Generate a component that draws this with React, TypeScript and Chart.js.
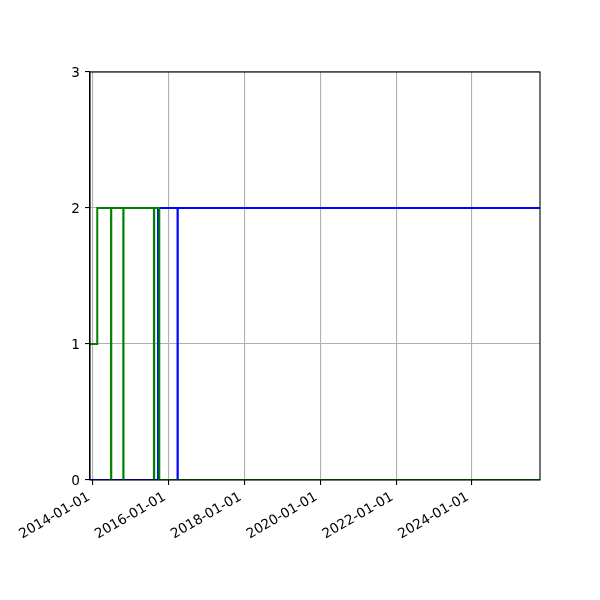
import React, { useEffect, useRef } from 'react';
import { Chart, registerables } from 'chart.js';

Chart.register(...registerables);

// dates (UTC days)
const xStart = '2013-12-03';
const xEnd = '2025-10-19';
const tickDates = ['2014-01-01', '2016-01-01', '2018-01-01', '2020-01-01', '2022-01-01', '2024-01-01'];
const yTicks = [0, 1, 2, 3];

const greenDates = [
  '2013-12-03', '2014-02-11', '2014-06-24', '2014-06-26', '2014-10-20',
  '2014-10-22', '2015-08-11', '2015-08-14', '2015-10-02', '2025-10-19',
];
const greenValues = [1, 2, 0, 2, 0, 2, 0, 2, 0, 0];

const blueDates = ['2013-12-03', '2015-09-20', '2016-03-26', '2016-03-28', '2025-10-19'];
const blueValues = [0, 2, 0, 2, 2];

const toMs = (s: string) => Date.parse(s + 'T00:00:00Z');
const fmt = (v: number) => new Date(v).toISOString().slice(0, 10);

const FONT = { family: '"DejaVu Sans", sans-serif', size: 13.6 };

// matplotlib style box around the plot area
const framePlugin = {
  id: 'frame',
  afterDraw(chart: any) {
    const { ctx, chartArea: a } = chart;
    ctx.save();
    ctx.strokeStyle = '#000';
    ctx.lineWidth = 1.1;
    ctx.strokeRect(a.left, a.top, a.right - a.left, a.bottom - a.top);
    ctx.restore();
  },
};

const App: React.FC = () => {
  const canvasRef = useRef<HTMLCanvasElement>(null);

  useEffect(() => {
    document.body.style.margin = '0';
    if (!canvasRef.current) return;

    const chart = new Chart(canvasRef.current, {
      type: 'line',
      data: {
        datasets: [
          {
            label: 'green',
            data: greenDates.map((d, i) => ({ x: toMs(d), y: greenValues[i] })),
            borderColor: '#008000',
            backgroundColor: '#008000',
            borderWidth: 2,
            pointRadius: 0,
            stepped: 'before',
          },
          {
            label: 'blue',
            data: blueDates.map((d, i) => ({ x: toMs(d), y: blueValues[i] })),
            borderColor: '#0000ff',
            backgroundColor: '#0000ff',
            borderWidth: 2,
            pointRadius: 0,
            stepped: 'before',
          },
        ],
      },
      options: {
        responsive: false,
        animation: false,
        layout: { padding: { top: 72, right: 60, left: 0, bottom: 0 } },
        plugins: { legend: { display: false }, tooltip: { enabled: false } },
        scales: {
          x: {
            type: 'linear',
            min: toMs(xStart),
            max: toMs(xEnd),
            afterBuildTicks: (scale: any) => {
              scale.ticks = tickDates.map((d) => ({ value: toMs(d) }));
            },
            afterFit: (scale: any) => {
              scale.height = 120;
            },
            ticks: {
              callback: (v: any) => fmt(Number(v)),
              minRotation: 30,
              maxRotation: 30,
              autoSkip: false,
              color: '#000',
              font: FONT,
              padding: 4,
              labelOffset: -4,
            },
            grid: { color: '#b0b0b0', lineWidth: 1.1, tickColor: '#000', tickLength: 5 },
            border: { display: true, color: '#000', width: 1.1 },
          },
          y: {
            min: 0,
            max: 3,
            afterBuildTicks: (scale: any) => {
              scale.ticks = yTicks.map((v) => ({ value: v }));
            },
            afterFit: (scale: any) => {
              scale.width = 90;
            },
            ticks: { color: '#000', font: FONT, padding: 5, labelOffset: 1 },
            grid: { color: '#b0b0b0', lineWidth: 1.1, tickColor: '#000', tickLength: 5 },
            border: { display: true, color: '#000', width: 1.1 },
          },
        },
      },
      plugins: [framePlugin],
    });

    return () => {
      chart.destroy();
    };
  }, []);

  return (
    <div style={{ width: 600, height: 600, background: '#fff' }}>
      <canvas ref={canvasRef} width={600} height={600} />
    </div>
  );
};

export default App;
